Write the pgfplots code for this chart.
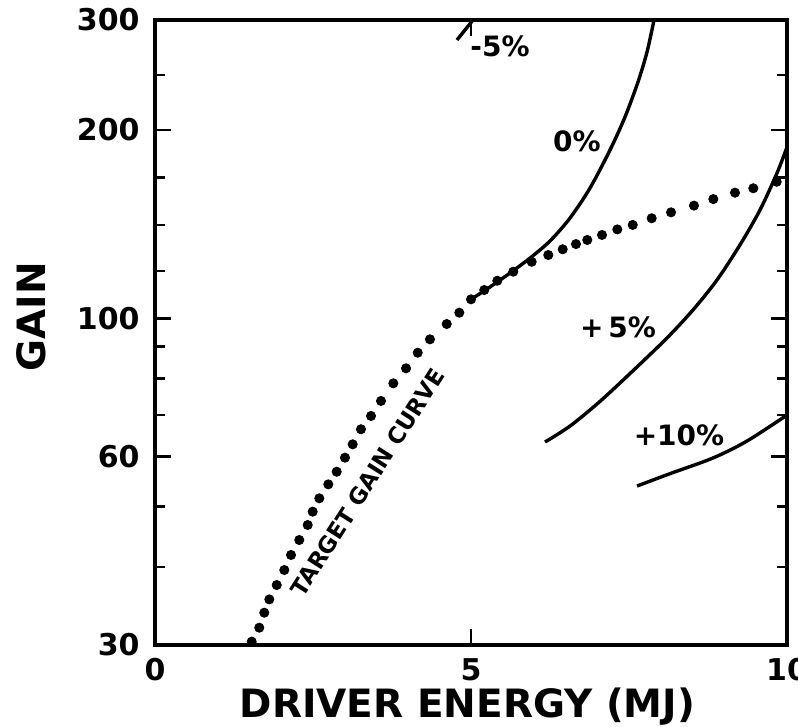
\documentclass[border=0pt]{standalone}
\usepackage{fontspec}
\setmainfont{DejaVu Sans}
\usepackage{pgfplots}
\pgfplotsset{compat=1.18}

\begin{document}
\begin{tikzpicture}
\begin{semilogyaxis}[
  name=ax,
  scale only axis,
  width=316pt, height=312.5pt,
  xmin=0, xmax=10, ymin=30, ymax=300,
  xtick={0,5,10}, xticklabels={0,5,10},
  ytick={30,60,100,200,300}, yticklabels={30,60,100,200,300},
  minor ytick={40,50,70,80,90,119,141,168,245},
  tick align=inside,
  major tick length=8pt, minor tick length=5pt,
  axis line style={line width=1.6pt},
  every tick/.style={black, line width=1.4pt},
  ticklabel style={font=\bfseries\fontsize{15}{15}\selectfont, inner sep=0pt},
  yticklabel style={xshift=-7.5pt},
  xticklabel style={yshift=-6.5pt},
  xlabel={DRIVER ENERGY (MJ)},
  ylabel={GAIN},
  label style={font=\bfseries\fontsize{19.5}{19.5}\selectfont},
  xlabel style={at={(axis description cs:0.4945,-0.099)}, anchor=center},
  ylabel style={at={(axis description cs:-0.1954,0.525)}, anchor=center},
]

% target gain curve (dots)
\addplot[only marks, mark=*, mark size=2.3pt, black] coordinates {
  (1.530,30.37) (1.650,31.98) (1.729,33.79) (1.809,35.49) (1.926,37.42)
  (2.046,39.55) (2.152,41.80) (2.283,44.17) (2.416,46.68) (2.495,49.03)
  (2.600,51.50) (2.742,54.22) (2.875,56.80) (3.006,59.82) (3.128,62.84)
  (3.259,66.42) (3.418,69.76) (3.576,73.73) (3.771,78.67) (3.972,83.14)
  (4.157,88.06) (4.351,92.51) (4.616,97.88) (4.815,102.05) (5.000,107.2)
  (5.210,110.95) (5.416,114.8) (5.669,118.7) (5.960,123.1) (6.223,126.2)
  (6.451,128.9) (6.661,131.4) (6.840,133.4) (7.073,135.9) (7.315,138.7)
  (7.559,141.0) (7.859,144.5) (8.165,147.7) (8.528,151.4) (8.834,155.1)
  (9.177,158.8) (9.467,161.4) (9.837,165.3)
};

% -5%
\addplot[black, line width=1.7pt] coordinates {(4.778,278.7) (5.032,300)};
% 0%
\addplot[black, line width=1.7pt, smooth] coordinates {
  (4.984,106.9) (5.301,112.2) (5.617,118.1) (5.934,124.8) (6.250,132.9)
  (6.566,144.6) (6.883,161.5) (7.199,185.8) (7.437,209.9) (7.642,238.7)
  (7.785,266.6) (7.896,300)
};
% +5%
\addplot[black, line width=1.7pt, smooth] coordinates {
  (6.171,63.38) (6.566,67.2) (7.041,73.6) (7.563,82.4) (8.101,92.96)
  (8.513,103.1) (8.892,115.1) (9.256,131.0) (9.573,149.0) (9.842,170.7)
  (10.0,187.8)
};
% +10%
\addplot[black, line width=1.7pt, smooth] coordinates {
  (7.627,53.88) (8.149,56.4) (8.829,59.75) (9.367,63.6) (10.0,70.0)
};

\node[font=\bfseries\fontsize{14}{14}\selectfont] at (axis cs:5.459,272.6) {-5\%};
\node[font=\bfseries\fontsize{14}{14}\selectfont] at (axis cs:6.677,192) {0\%};
\node[font=\bfseries\fontsize{14}{14}\selectfont] at (axis cs:7.326,96.8) {+\,5\%};
\node[font=\bfseries\fontsize{14}{14}\selectfont] at (axis cs:8.291,65.0) {+10\%};
\node[rotate=57.5, font=\bfseries\fontsize{11.4}{11.4}\selectfont] at (axis cs:3.36,54.6) {TARGET GAIN CURVE};
\end{semilogyaxis}
\pgfresetboundingbox
\path[use as bounding box] ([shift={(-77.5pt,-40.5pt)}]ax.south west) rectangle ([shift={(5.5pt,10pt)}]ax.north east);
\end{tikzpicture}
\end{document}
